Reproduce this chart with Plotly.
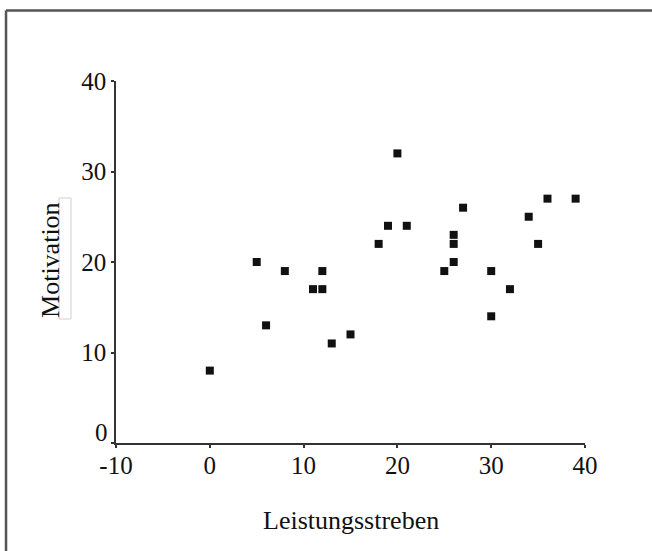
import plotly.graph_objects as go

leistungsstreben = [0, 5, 6, 8, 11, 12, 12, 13, 15, 18, 19, 20, 21, 25, 26, 26, 26, 27, 30, 30, 32, 34, 35, 36, 39]
motivation = [8, 20, 13, 19, 17, 19, 17, 11, 12, 22, 24, 32, 24, 19, 23, 22, 20, 26, 19, 14, 17, 25, 22, 27, 27]
x_ticks = [-10, 0, 10, 20, 30, 40]
x_tick_labels = ["-10", "0", "10", "20", "30", "40"]
y_ticks = [0, 10, 20, 30, 40]
y_tick_labels = ["0", "10", "20", "30", "40"]

FONT = "Liberation Serif"

fig = go.Figure()
fig.add_trace(go.Scatter(
    x=leistungsstreben, y=motivation, mode="markers",
    marker=dict(symbol="square", size=8, color="#111111", line=dict(width=0)),
    cliponaxis=False, showlegend=False,
))

axis_common = dict(
    showline=True, linecolor="#333333", linewidth=1.5,
    ticks="outside", ticklen=3, tickwidth=2, tickcolor="#333333",
    showgrid=False, zeroline=False,
    tickfont=dict(family=FONT, size=25, color="#111111"),
)
fig.update_xaxes(range=[-10, 40], tickvals=x_ticks, ticktext=x_tick_labels,
                 ticklabelstandoff=-4, **axis_common)
# the "0" label of the y axis sits raised above its tick (drawn as an annotation below)
fig.update_yaxes(range=[0, 40], tickvals=y_ticks,
                 ticktext=[""] + y_tick_labels[1:],
                 ticklabelstandoff=0, **axis_common)

fig.update_layout(
    width=652, height=551,
    margin=dict(l=116, r=67, t=81, b=108),
    plot_bgcolor="white", paper_bgcolor="white",
    annotations=[
        dict(text=y_tick_labels[0], x=0, y=y_ticks[0], xref="paper", yref="y",
             xanchor="right", yanchor="middle", xshift=-6, yshift=11, showarrow=False,
             font=dict(family=FONT, size=25, color="#111111")),
        dict(text="Leistungsstreben", x=0.5, y=-0.215, xref="paper", yref="paper",
             xanchor="center", yanchor="middle", showarrow=False,
             font=dict(family=FONT, size=26, color="#111111")),
        dict(text="Motivation", x=-0.1397, y=0.507, xref="paper", yref="paper",
             xanchor="center", yanchor="middle", showarrow=False, textangle=-90,
             font=dict(family=FONT, size=26, color="#111111")),
    ],
    shapes=[
        dict(type="rect", xref="paper", yref="paper", x0=-0.1215, x1=-0.0959, y0=0.3425, y1=0.6768,
             line=dict(color="#d0d0d0", width=1), fillcolor="rgba(0,0,0,0)", layer="below"),
        dict(type="line", xref="paper", yref="paper", x0=-0.2345, x1=1.2, y0=1.1947, y1=1.1947,
             line=dict(color="#555555", width=2.5)),
        dict(type="line", xref="paper", yref="paper", x0=-0.2345, x1=-0.2345, y0=1.1947, y1=-0.35,
             line=dict(color="#555555", width=2.5)),
    ],
)

fig.write_html("out.html", config={"displayModeBar": False},
               post_script="document.body.style.margin='0';document.body.style.overflow='hidden';")
